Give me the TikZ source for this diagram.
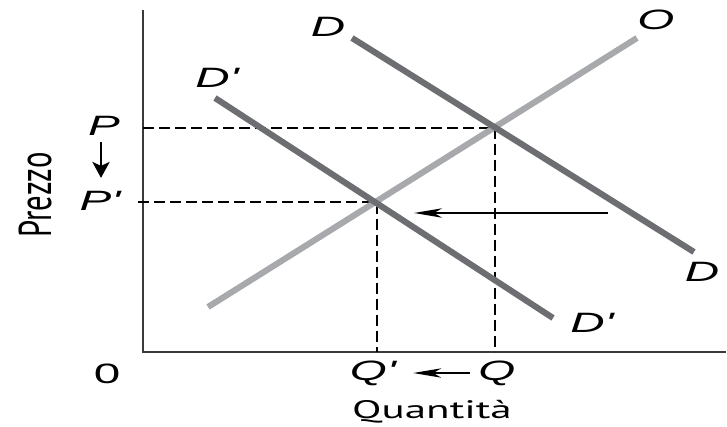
\documentclass[tikz,border=0pt]{standalone}
\usepackage{fontspec}
\usepackage{graphicx}
\setmainfont{Liberation Sans}
\newfontfamily\axisfont{PT Sans}
\usetikzlibrary{arrows.meta}
\definecolor{demandc}{HTML}{6D6E71}
\definecolor{supplyc}{HTML}{A7A9AC}
\definecolor{axisc}{HTML}{3A3A3A}
\newcommand{\widetxt}[1]{\scalebox{1.7}[1]{#1}}
\newcommand{\pr}{\textquotesingle}
\begin{document}
\begin{tikzpicture}[x=0.75pt,y=-0.75pt,
  lbl/.style={inner sep=0pt, font=\fontsize{21}{25}\selectfont\itshape},
  ttl/.style={inner sep=0pt, font=\fontsize{19}{23}\selectfont\axisfont},
  axisline/.style={draw=axisc, line width=2pt},
  curveD/.style={draw=demandc, line width=4.6pt},
  curveO/.style={draw=supplyc, line width=4.6pt},
  guide/.style={draw=black, line width=1.3pt, dash pattern=on 8pt off 4pt},
  harrow/.style={draw=black, line width=1.4pt, -{Stealth[length=21pt,width=7pt,inset=6pt]}},
  varrow/.style={draw=black, line width=1.4pt, -{Stealth[length=12pt,width=13pt,inset=3pt]}}]
\useasboundingbox (0,0) rectangle (727,427);
% axes
\coordinate (top) at (143,10);
\coordinate (orig) at (143,352);
\coordinate (right) at (726,352);
\draw[axisline] (top) -- (orig) -- (right);
% guides
\coordinate (pP) at (143,128);
\coordinate (pQ) at (495,352);
\coordinate (pP2) at (138,202);
\coordinate (pQ2) at (377,352);
\draw[guide] (pP) -| (pQ);
\draw[guide] (pP2) -| (pQ2);
% curves
\coordinate (Da) at (352,38);
\coordinate (Db) at (694,252);
\coordinate (D2a) at (215,98);
\coordinate (D2b) at (553,318);
\coordinate (Oa) at (208,307);
\coordinate (Ob) at (637,38);
\draw[curveO] (Oa) -- (Ob);
\draw[curveD] (Da) -- (Db);
\draw[curveD] (D2a) -- (D2b);
% shift arrow
\coordinate (sa) at (608,213);
\coordinate (sb) at (414,213);
\draw[harrow] (sa) -- (sb);
% labels
\node[lbl] (lD) at (328,27) {\widetxt{D}};
\node[lbl] (lO) at (656,20) {\widetxt{O}};
\node[lbl] (lD2) at (217,78) {\widetxt{D\pr}};
\node[lbl] (lDb) at (702,272) {\widetxt{D}};
\node[lbl] (lD2b) at (592,323) {\widetxt{D\pr}};
\node[lbl] (lP) at (104,126) {\widetxt{P}};
\node[lbl] (lP2) at (100,201) {\widetxt{P\pr}};
\draw[varrow] (lP.south) ++(-3,6) coordinate (va) (va) -- ++(0,36) coordinate (vb);
\node[inner sep=0pt, font=\fontsize{21}{25}\selectfont] (l0) at (107,374) {\widetxt{0}};
\node[lbl] (lQ2) at (373,373) {\widetxt{Q\pr}};
\node[lbl] (lQ) at (497,373) {\widetxt{Q}};
\draw[harrow] (lQ.west) ++(-8,0) coordinate (qa) (qa) -- ++(-57,0) coordinate (qb);
\node[ttl] (xt) at (432,412) {\widetxt{Quantità}};
\node[ttl, rotate=90, font=\fontsize{23}{27}\selectfont\axisfont] (yt) at (35,195) {\scalebox{1}[1.5]{Prezzo}};
\end{tikzpicture}
\end{document}
